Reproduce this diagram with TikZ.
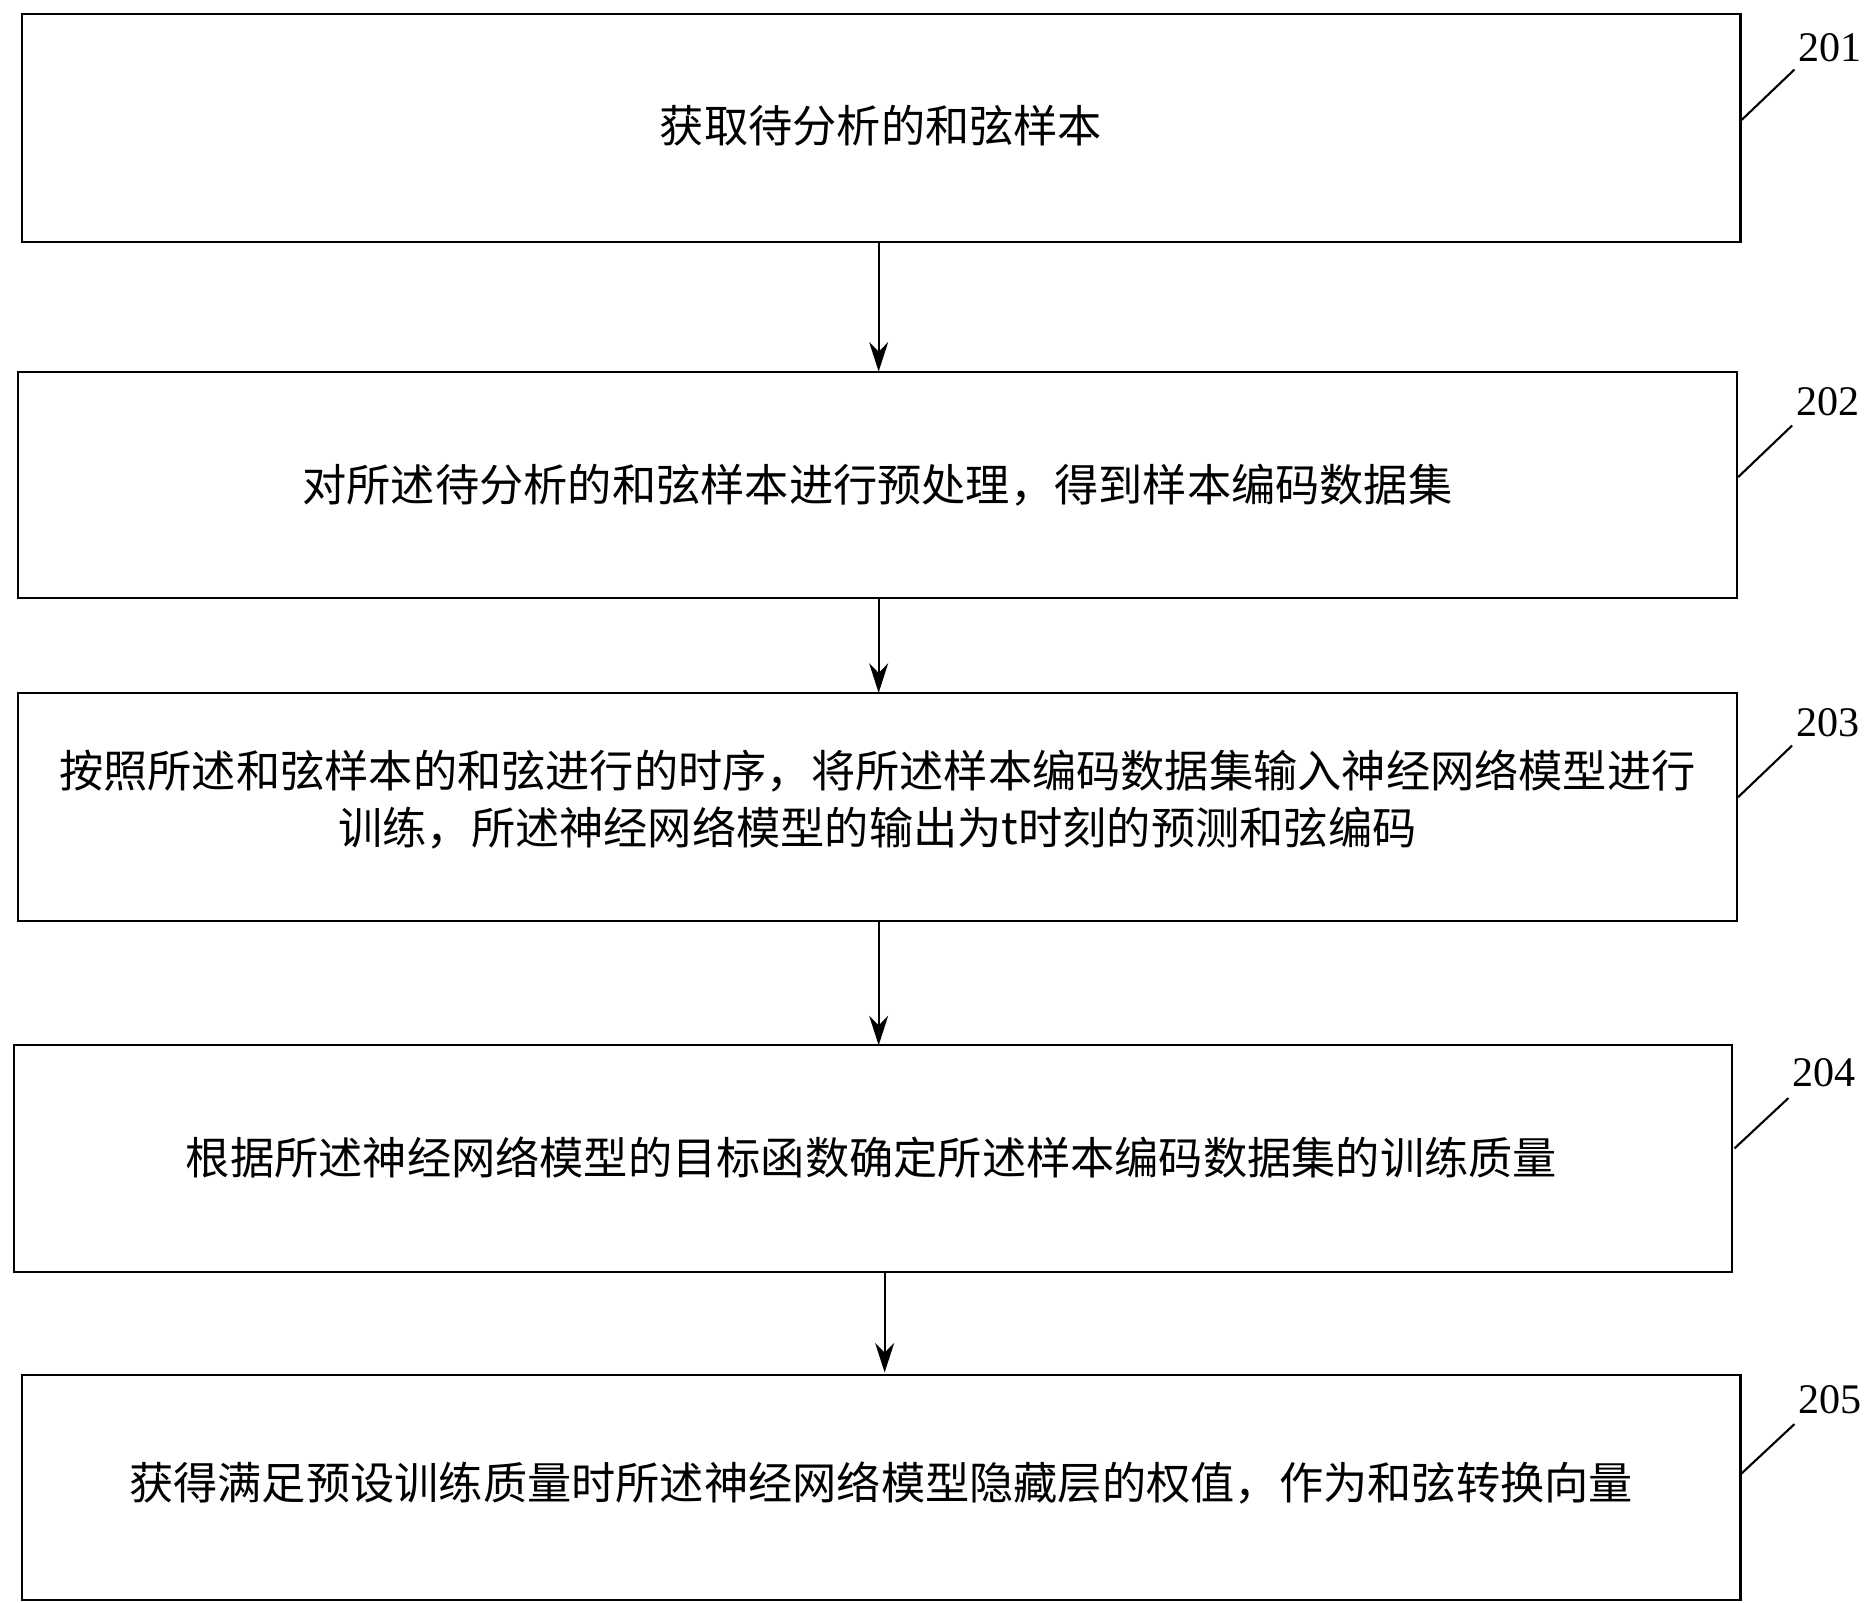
\documentclass[tikz,border=0pt]{standalone}
\usepackage{fontspec}
\usetikzlibrary{arrows.meta}
\setmainfont{Liberation Serif}
\newfontfamily\cjk{Noto Sans CJK SC}
\begin{document}
\begin{tikzpicture}[x=0.02cm,y=-0.02cm,
 box/.style={draw,line width=1pt,inner sep=0pt},
 txt/.style={font=\cjk\fontsize{21}{27}\selectfont,align=center},
 num/.style={font=\fontsize{20}{24}\selectfont},
 arr/.style={-{Stealth[length=14pt,width=9pt]},line width=1pt}]
\useasboundingbox (0,0) rectangle (1560,1337);
\draw[box] (18,12) rectangle (1452,202);
\node[txt] (t1) at (735,105) {获取待分析的和弦样本};
\draw[box] (15,310) rectangle (1449,499);
\node[txt] (t2) at (732,405) {对所述待分析的和弦样本进行预处理，得到样本编码数据集};
\draw[box] (15,578) rectangle (1449,768);
\node[txt] (t3) at (732,667) {按照所述和弦样本的和弦进行的时序，将所述样本编码数据集输入神经网络模型进行\\训练，所述神经网络模型的输出为t时刻的预测和弦编码};
\draw[box] (12,872) rectangle (1445,1061);
\node[txt] (t4) at (727,966) {根据所述神经网络模型的目标函数确定所述样本编码数据集的训练质量};
\draw[box] (18,1147) rectangle (1452,1335);
\node[txt] (t5) at (735,1237) {获得满足预设训练质量时所述神经网络模型隐藏层的权值，作为和弦转换向量};
\coordinate (a1) at (733,202); \coordinate (a2) at (733,310);
\coordinate (a3) at (733,499); \coordinate (a4) at (733,578);
\coordinate (a5) at (733,768); \coordinate (a6) at (733,872);
\coordinate (a7) at (738,1061); \coordinate (a8) at (738,1145);
\draw[arr] (a1)--(a2); \draw[arr] (a3)--(a4); \draw[arr] (a5)--(a6); \draw[arr] (a7)--(a8);
\node[num] (n1) at (1527,40) {201}; \draw[line width=1pt] (1453,100)--(1497,58);
\node[num] (n2) at (1525,335) {202}; \draw[line width=1pt] (1450,398)--(1495,355);
\node[num] (n3) at (1525,603) {203}; \draw[line width=1pt] (1450,665)--(1495,622);
\node[num] (n4) at (1522,895) {204}; \draw[line width=1pt] (1447,958)--(1492,916);
\node[num] (n5) at (1527,1168) {205}; \draw[line width=1pt] (1452,1230)--(1497,1188);
\end{tikzpicture}
\end{document}
